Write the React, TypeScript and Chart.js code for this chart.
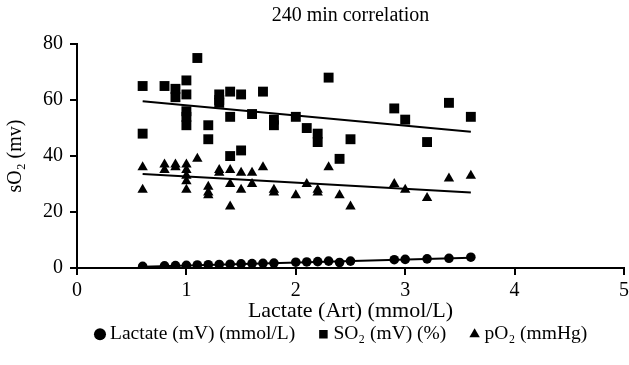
import React, { useEffect, useRef } from "react";
import { Chart, registerables } from "chart.js";

Chart.register(...registerables);

const titleText = "240 min correlation";
const xTitle = "Lactate (Art) (mmol/L)";
const yTitle = "sO\u2082 (mv)";
const seriesNames = ["Lactate (mV) (mmol/L)", "SO\u2082 (mV) (%)", "pO\u2082 (mmHg)"];

const xTicks = [0, 1, 2, 3, 4, 5];
const yTicks = [0, 20, 40, 60, 80];

// Lactate (mV) vs Lactate (Art)
const lactateX = [0.6, 0.8, 0.9, 1.0, 1.1, 1.2, 1.3, 1.4, 1.5, 1.6, 1.7, 1.8, 2.0, 2.1, 2.2, 2.3, 2.4, 2.5, 2.9, 3.0, 3.2, 3.4, 3.6];
const lactateY = [0.6, 0.8, 0.9, 1.0, 1.1, 1.2, 1.3, 1.4, 1.5, 1.6, 1.7, 1.8, 2.1, 2.2, 2.3, 2.5, 2.0, 2.5, 3.0, 3.1, 3.3, 3.5, 3.9];

// SO2 (mV)
const so2X = [0.6, 0.6, 0.8, 0.9, 0.9, 1.0, 1.0, 1.0, 1.0, 1.0, 1.1, 1.2, 1.2, 1.3, 1.3, 1.3, 1.4, 1.4, 1.4, 1.5, 1.5, 1.6, 1.7, 1.8, 1.8, 2.0, 2.1, 2.2, 2.2, 2.3, 2.4, 2.5, 2.9, 3.0, 3.2, 3.4, 3.6];
const so2Y = [65, 48, 65, 64, 61, 67, 62, 56, 54, 51, 75, 51, 46, 62, 60, 59, 63, 54, 40, 62, 42, 55, 63, 53, 51, 54, 50, 48, 45, 68, 39, 46, 57, 53, 45, 59, 54];

// pO2
const po2X = [0.6, 0.6, 0.8, 0.8, 0.9, 0.9, 1.0, 1.0, 1.0, 1.0, 1.0, 1.1, 1.2, 1.2, 1.2, 1.3, 1.3, 1.4, 1.4, 1.4, 1.5, 1.5, 1.6, 1.6, 1.7, 1.8, 1.8, 2.0, 2.1, 2.2, 2.2, 2.3, 2.4, 2.5, 2.9, 3.0, 3.2, 3.4, 3.6];
const po2Y = [36, 28, 37, 35, 37, 36, 37, 35, 33, 31, 28, 39, 29, 27, 26, 35, 34, 35, 30, 22, 34, 28, 34, 30, 36, 28, 27, 26, 30, 28, 27, 36, 26, 22, 30, 28, 25, 32, 33];

// Linear trend lines (endpoints)
const trendX = [0.6, 3.6];
const lactateTrend = [0.5, 3.7];
const so2Trend = [59.6, 48.7];
const po2Trend = [33.6, 27.0];

const FONT = "'Liberation Serif', 'Times New Roman', serif";

const pts = (xs: number[], ys: number[]) => xs.map((x, i) => ({ x, y: ys[i] }));

// nudges the legend a few pixels to the left, like the reference
const legendShift = {
  id: "legendShift",
  afterLayout(chart: any) {
    const l = chart.legend;
    if (l) {
      l.left -= 7;
      l.right -= 7;
    }
  },
};

export default function App() {
  const ref = useRef<HTMLCanvasElement | null>(null);
  useEffect(() => {
    if (!ref.current) return;
    const scatterBase = {
      backgroundColor: "#000",
      borderColor: "#000",
      borderWidth: 0,
      showLine: false,
    };
    const trendBase = {
      showLine: true,
      borderColor: "#000",
      borderWidth: 2,
      pointRadius: 0,
      pointHoverRadius: 0,
      fill: false,
    };
    const chart = new Chart(ref.current, {
      type: "scatter",
      plugins: [legendShift],
      data: {
        datasets: [
          { ...scatterBase, label: seriesNames[0], data: pts(lactateX, lactateY), pointStyle: "circle", pointRadius: 4.8 },
          { ...scatterBase, label: seriesNames[1], data: pts(so2X, so2Y), pointStyle: "rect", pointRadius: 7 },
          { ...scatterBase, label: seriesNames[2], data: pts(po2X, po2Y), pointStyle: "triangle", pointRadius: 6 },
          { ...trendBase, label: "trend1", data: pts(trendX, lactateTrend) },
          { ...trendBase, label: "trend2", data: pts(trendX, so2Trend) },
          { ...trendBase, label: "trend3", data: pts(trendX, po2Trend) },
        ],
      },
      options: {
        responsive: false,
        animation: false,
        layout: { padding: { left: 4, right: 0, top: 2, bottom: 11 } },
        plugins: {
          tooltip: { enabled: false },
          title: {
            display: true,
            fullSize: false,
            text: titleText,
            color: "#000",
            font: { family: FONT, size: 20, weight: "normal" },
            padding: { top: 2, bottom: 16 },
          },
          legend: {
            position: "bottom",
            fullSize: false,
            labels: {
              usePointStyle: true,
              boxWidth: 0.5,
              boxHeight: 8.5,
              color: "#000",
              padding: 28,
              font: { family: FONT, size: 19.5 },
              filter: (item: any) => item.datasetIndex < 3,
            },
          },
        },
        scales: {
          x: {
            type: "linear",
            min: 0,
            max: 5,
            afterBuildTicks: (s: any) => { s.ticks = xTicks.map((v) => ({ value: v })); },
            border: { display: true, color: "#000", width: 2 },
            grid: { display: true, drawOnChartArea: false, drawTicks: true, tickLength: 7, color: "#000", lineWidth: 2 },
            ticks: { color: "#000", font: { family: FONT, size: 20 }, padding: 4, maxRotation: 0 },
            title: { display: true, text: xTitle, color: "#000", font: { family: FONT, size: 22 }, padding: { top: -9, bottom: -28 } },
          },
          y: {
            type: "linear",
            min: 0,
            max: 80,
            afterBuildTicks: (s: any) => { s.ticks = yTicks.map((v) => ({ value: v })); },
            border: { display: true, color: "#000", width: 2 },
            grid: { display: true, drawOnChartArea: false, drawTicks: true, tickLength: 7, color: "#000", lineWidth: 2 },
            ticks: { color: "#000", font: { family: FONT, size: 20 }, padding: 7 },
            title: { display: true, text: yTitle, color: "#000", font: { family: FONT, size: 20 }, padding: { top: 0, bottom: 8 } },
          },
        },
      },
    });
    return () => chart.destroy();
  }, []);
  return (
    <div style={{ position: "fixed", left: 0, top: 0, width: 629, height: 365, overflow: "hidden", background: "#fff" }}>
      <canvas ref={ref} width={633} height={365} style={{ width: 633, height: 365, display: "block" }} />
    </div>
  );
}
